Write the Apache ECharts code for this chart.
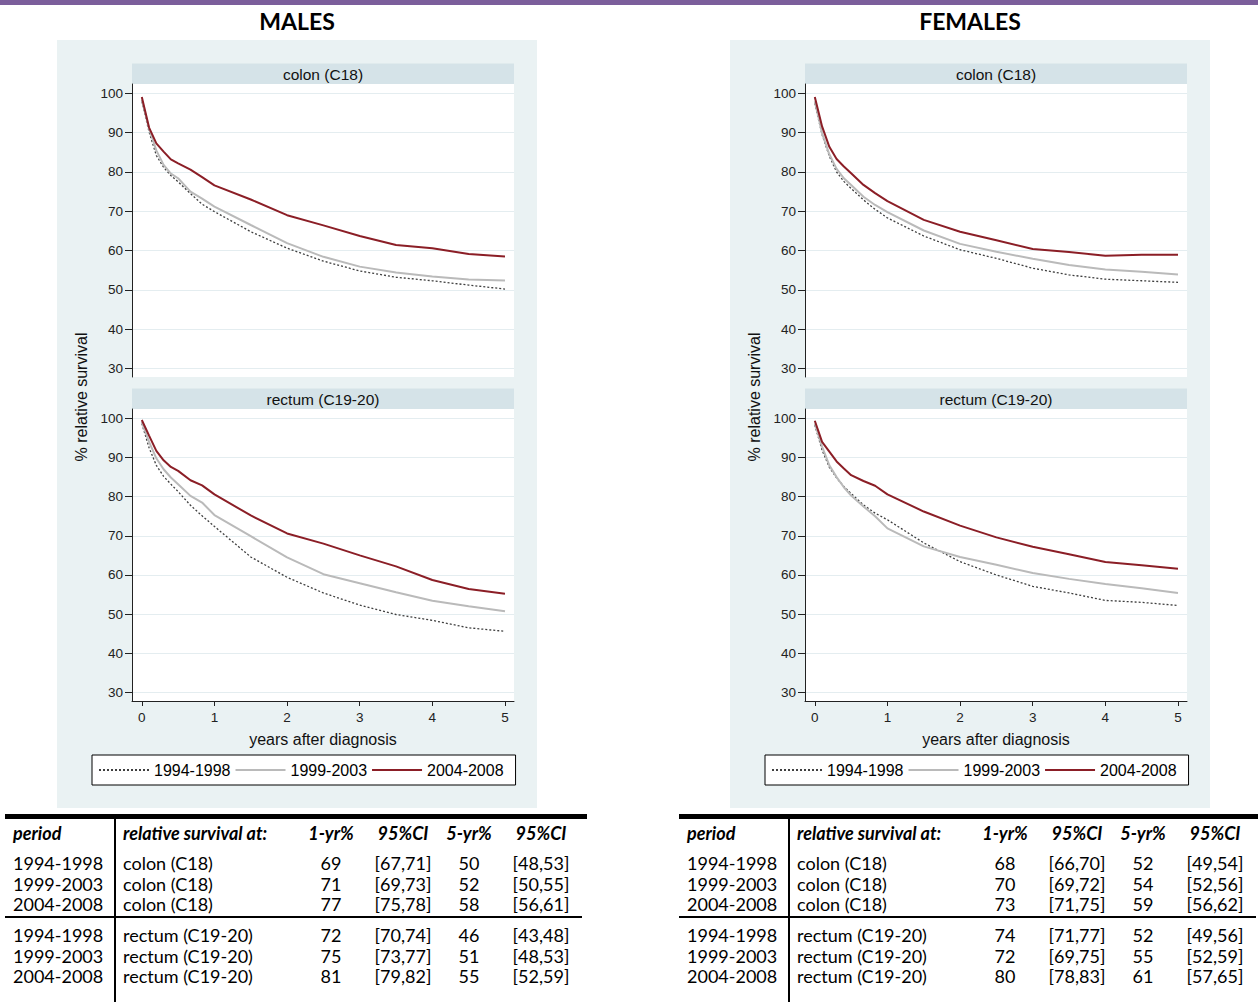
<!DOCTYPE html>
<html lang="en">
<head>
<meta charset="UTF-8">
<title>Relative survival, colon and rectum</title>
<script src="https://cdn.jsdelivr.net/npm/echarts@6/dist/echarts.min.js"></script>
<style>
    body { margin: 0; width: 1258px; height: 1002px; position: relative; overflow: hidden; background: #fff; }
    .bar { position: absolute; left: 0; top: 0; width: 1258px; height: 5px; background: #7b5e9b; }
    .panel { position: absolute; top: 40px; width: 480px; height: 768px; background: #eaf2f3; }
    #main { position: absolute; left: 0; top: 0; width: 1258px; height: 1002px; }
    .cell { position: absolute; font-family: Lato, sans-serif; font-size: 18px; line-height: 20px; height: 20px; white-space: nowrap; color: #000; }
    .head { font-weight: bold; font-style: italic; }
    .rule { position: absolute; background: #000; }
</style>
</head>
<body>
<div class="bar"></div>
<div class="panel" style="left:57px"></div>
<div class="panel" style="left:730px"></div>
<div id="main"></div>
<div id="tables"></div>
<script type="text/javascript">
    // years after diagnosis at which the curves were read
    var years = [0, 0.1, 0.2, 0.3, 0.4, 0.5, 0.67, 0.83, 1, 1.5, 2, 2.5, 3, 3.5, 4, 4.5, 5];
    var periods = ['1994-1998', '1999-2003', '2004-2008'];
    var yTicks = [30, 40, 50, 60, 70, 80, 90, 100];
    var xTicks = [0, 1, 2, 3, 4, 5];

    // males
    var maleColon1994 = [98.0, 90.2, 84.2, 81.2, 79.1, 77.5, 74.5, 71.8, 69.9, 64.8, 60.6, 57.3, 54.8, 53.2, 52.3, 51.2, 50.2];
    var maleColon1999 = [98.4, 91.0, 85.5, 81.8, 79.6, 78.4, 75.0, 73.2, 71.2, 66.5, 61.9, 58.4, 55.9, 54.4, 53.4, 52.6, 52.4];
    var maleColon2004 = [99.1, 91.3, 87.3, 85.2, 83.2, 82.2, 80.6, 78.7, 76.6, 73.0, 69.0, 66.4, 63.7, 61.4, 60.6, 59.1, 58.5];
    var maleRectum1994 = [98.7, 92.5, 88.0, 85.2, 83.2, 81.3, 77.8, 75.1, 72.4, 64.6, 59.4, 55.4, 52.3, 49.9, 48.4, 46.5, 45.6];
    var maleRectum1999 = [99.1, 94.0, 89.8, 87.0, 84.9, 83.2, 80.2, 78.5, 75.3, 69.9, 64.5, 60.2, 57.9, 55.6, 53.4, 52.0, 50.7];
    var maleRectum2004 = [99.6, 95.6, 91.7, 89.3, 87.6, 86.6, 84.2, 82.9, 80.6, 75.2, 70.6, 68.0, 65.0, 62.2, 58.7, 56.4, 55.2];

    // females
    var femaleColon1994 = [97.5, 89.5, 84.0, 80.0, 77.6, 75.8, 72.9, 70.5, 68.3, 63.7, 60.2, 58.0, 55.5, 53.8, 52.7, 52.3, 51.9];
    var femaleColon1999 = [98.0, 89.9, 84.5, 80.8, 78.4, 76.7, 73.7, 71.6, 69.8, 65.1, 61.7, 59.7, 57.9, 56.3, 55.2, 54.6, 53.9];
    var femaleColon2004 = [99.1, 91.6, 86.4, 83.3, 81.4, 79.7, 76.7, 74.6, 72.6, 67.8, 64.8, 62.6, 60.4, 59.6, 58.7, 58.9, 58.9];
    var femaleRectum1994 = [98.3, 91.9, 87.5, 84.8, 82.6, 80.8, 77.9, 75.8, 74.1, 68.2, 63.4, 60.0, 57.1, 55.4, 53.5, 53.0, 52.2];
    var femaleRectum1999 = [98.7, 92.8, 88.0, 85.0, 82.4, 80.3, 77.5, 75.0, 71.9, 67.3, 64.6, 62.6, 60.5, 59.0, 57.7, 56.6, 55.4];
    var femaleRectum2004 = [99.4, 94.0, 91.5, 89.0, 87.2, 85.5, 84.0, 82.8, 80.6, 76.2, 72.6, 69.6, 67.2, 65.3, 63.3, 62.5, 61.6];

    // table below each chart
    var tableHeader = ['period', 'relative survival at:', '1-yr%', '95%CI', '5-yr%', '95%CI'];
    var tablePeriods = ['1994-1998', '1999-2003', '2004-2008', '1994-1998', '1999-2003', '2004-2008'];
    var tableSites = ['colon (C18)', 'colon (C18)', 'colon (C18)', 'rectum (C19-20)', 'rectum (C19-20)', 'rectum (C19-20)'];
    var maleOneYr = [69, 71, 77, 72, 75, 81];
    var maleOneYrCI = ['[67,71]', '[69,73]', '[75,78]', '[70,74]', '[73,77]', '[79,82]'];
    var maleFiveYr = [50, 52, 58, 46, 51, 55];
    var maleFiveYrCI = ['[48,53]', '[50,55]', '[56,61]', '[43,48]', '[48,53]', '[52,59]'];
    var femaleOneYr = [68, 70, 73, 74, 72, 80];
    var femaleOneYrCI = ['[66,70]', '[69,72]', '[71,75]', '[71,77]', '[69,75]', '[78,83]'];
    var femaleFiveYr = [52, 54, 59, 52, 55, 61];
    var femaleFiveYrCI = ['[49,54]', '[52,56]', '[56,62]', '[49,56]', '[52,59]', '[57,65]'];

    var lineStyles = {
        '1994-1998': { color: '#3f3f3f', width: 1.3, type: [2, 2] },
        '1999-2003': { color: '#bababa', width: 2 },
        '2004-2008': { color: '#8b1e26', width: 2 }
    };
    var AXIS = '#222';
    var FONT = 'Liberation Sans, Arial, sans-serif';
    var OFFSET = 673;

    var myChart = echarts.init(document.getElementById('main'), null, { renderer: 'svg' });

    var grids = [], xAxes = [], yAxes = [], series = [], graphics = [];
    var panels = [
        { left: 132, top: 84, height: 293, strip: 'colon (C18)', bottom: false, data: [maleColon1994, maleColon1999, maleColon2004] },
        { left: 132, top: 409, height: 292, strip: 'rectum (C19-20)', bottom: true, data: [maleRectum1994, maleRectum1999, maleRectum2004] },
        { left: 132 + OFFSET, top: 84, height: 293, strip: 'colon (C18)', bottom: false, data: [femaleColon1994, femaleColon1999, femaleColon2004] },
        { left: 132 + OFFSET, top: 409, height: 292, strip: 'rectum (C19-20)', bottom: true, data: [femaleRectum1994, femaleRectum1999, femaleRectum2004] }
    ];

    panels.forEach(function (p, i) {
        grids.push({ left: p.left, top: p.top, width: 382, height: p.height, show: true, backgroundColor: '#fff', borderWidth: 0 });
        xAxes.push({
            gridIndex: i, type: 'value', min: -0.135, max: 5.124, show: p.bottom,
            name: 'years after diagnosis', nameLocation: 'middle', nameGap: 30,
            nameTextStyle: { fontSize: 16, color: '#111', fontFamily: FONT },
            axisLine: { show: true, onZero: false, lineStyle: { color: AXIS, width: 1 } },
            axisTick: { show: true, customValues: xTicks, length: 5, lineStyle: { color: AXIS } },
            axisLabel: { customValues: xTicks, margin: 9, fontSize: 13.5, color: '#222', fontFamily: FONT },
            splitLine: { show: false }
        });
        yAxes.push({
            gridIndex: i, type: 'value', min: 27.8, max: 102.4,
            axisLine: { show: true, onZero: false, lineStyle: { color: AXIS, width: 1 } },
            axisTick: { show: true, customValues: yTicks, length: 7, lineStyle: { color: AXIS } },
            axisLabel: { customValues: yTicks, margin: 9, fontSize: 13.5, color: '#222', fontFamily: FONT },
            splitLine: { show: true, lineStyle: { color: '#e4edf0', width: 1 } }
        });
        periods.forEach(function (name, k) {
            series.push({
                type: 'line', name: name, xAxisIndex: i, yAxisIndex: i,
                symbol: 'none', showSymbol: false, animation: false,
                lineStyle: lineStyles[name],
                itemStyle: { color: lineStyles[name].color },
                data: years.map(function (x, j) { return [x, p.data[k][j]]; })
            });
        });
        // strip with the site name above each plot
        graphics.push({
            type: 'rect', shape: { x: p.left, y: p.top - 20.5, width: 382, height: 20.5 },
            style: { fill: '#d5e3e8' }
        });
        graphics.push({
            type: 'text', x: p.left + 191, y: p.top - 10,
            style: { text: p.strip, font: '15.5px ' + FONT, fill: '#111', textAlign: 'center', textVerticalAlign: 'middle' }
        });
    });

    [['MALES', 0], ['FEMALES', OFFSET]].forEach(function (t) {
        graphics.push({
            type: 'text', x: 297 + t[1], y: 21,
            style: { text: t[0], font: 'bold 23px Lato, sans-serif', fill: '#000', textAlign: 'center', textVerticalAlign: 'middle' }
        });
        graphics.push({
            type: 'text', x: 81 + t[1], y: 397, rotation: Math.PI / 2,
            style: { text: '% relative survival', font: '16px ' + FONT, fill: '#111', textAlign: 'center', textVerticalAlign: 'middle' }
        });
    });

    function legendAt(left) {
        return {
            data: periods, left: left, top: 755, orient: 'horizontal',
            itemWidth: 50, itemHeight: 17, itemGap: 4,
            padding: [7, 12, 7, 6],
            backgroundColor: '#fff', borderColor: '#000', borderWidth: 1, borderRadius: 0,
            itemStyle: { opacity: 0 },
            textStyle: { fontSize: 16, color: '#000', fontFamily: FONT },
            selectedMode: false
        };
    }

    myChart.setOption({
        backgroundColor: 'transparent',
        animation: false,
        grid: grids,
        xAxis: xAxes,
        yAxis: yAxes,
        legend: [legendAt(92), legendAt(92 + OFFSET)],
        graphic: graphics,
        series: series
    });

    // tables
    var tables = document.getElementById('tables');
    function addDiv(cls, css, text) {
        var d = document.createElement('div');
        d.className = cls;
        d.style.cssText = css;
        if (text !== undefined) d.textContent = text;
        tables.appendChild(d);
    }
    function cellAt(base, col, yc, text, head) {
        var cols = [
            { left: 13, align: 'left' }, { left: 123, align: 'left' },
            { center: 331 }, { center: 403 }, { center: 469 }, { center: 541 }
        ];
        var c = cols[col], css;
        if (c.align === 'left') {
            css = 'left:' + (base + c.left) + 'px;top:' + (yc - 10) + 'px;';
        } else {
            css = 'left:' + (base + c.center - 50) + 'px;width:100px;text-align:center;top:' + (yc - 10) + 'px;';
        }
        addDiv('cell' + (head ? ' head' : ''), css, String(text));
    }
    var rowY = [863, 883.5, 904, 935, 955.5, 976];
    [[0, maleOneYr, maleOneYrCI, maleFiveYr, maleFiveYrCI], [674, femaleOneYr, femaleOneYrCI, femaleFiveYr, femaleFiveYrCI]].forEach(function (t) {
        var b = t[0];
        addDiv('rule', 'left:' + (b + 5) + 'px;top:814px;width:582px;height:5px;');
        addDiv('rule', 'left:' + (b + 5) + 'px;top:916px;width:577px;height:2px;');
        addDiv('rule', 'left:' + (b + 114) + 'px;top:819px;width:2px;height:183px;');
        tableHeader.forEach(function (h, c) { cellAt(b, c, 833, h, true); });
        tablePeriods.forEach(function (p, r) {
            cellAt(b, 0, rowY[r], p);
            cellAt(b, 1, rowY[r], tableSites[r]);
            cellAt(b, 2, rowY[r], t[1][r]);
            cellAt(b, 3, rowY[r], t[2][r]);
            cellAt(b, 4, rowY[r], t[3][r]);
            cellAt(b, 5, rowY[r], t[4][r]);
        });
    });
</script>
</body>
</html>
